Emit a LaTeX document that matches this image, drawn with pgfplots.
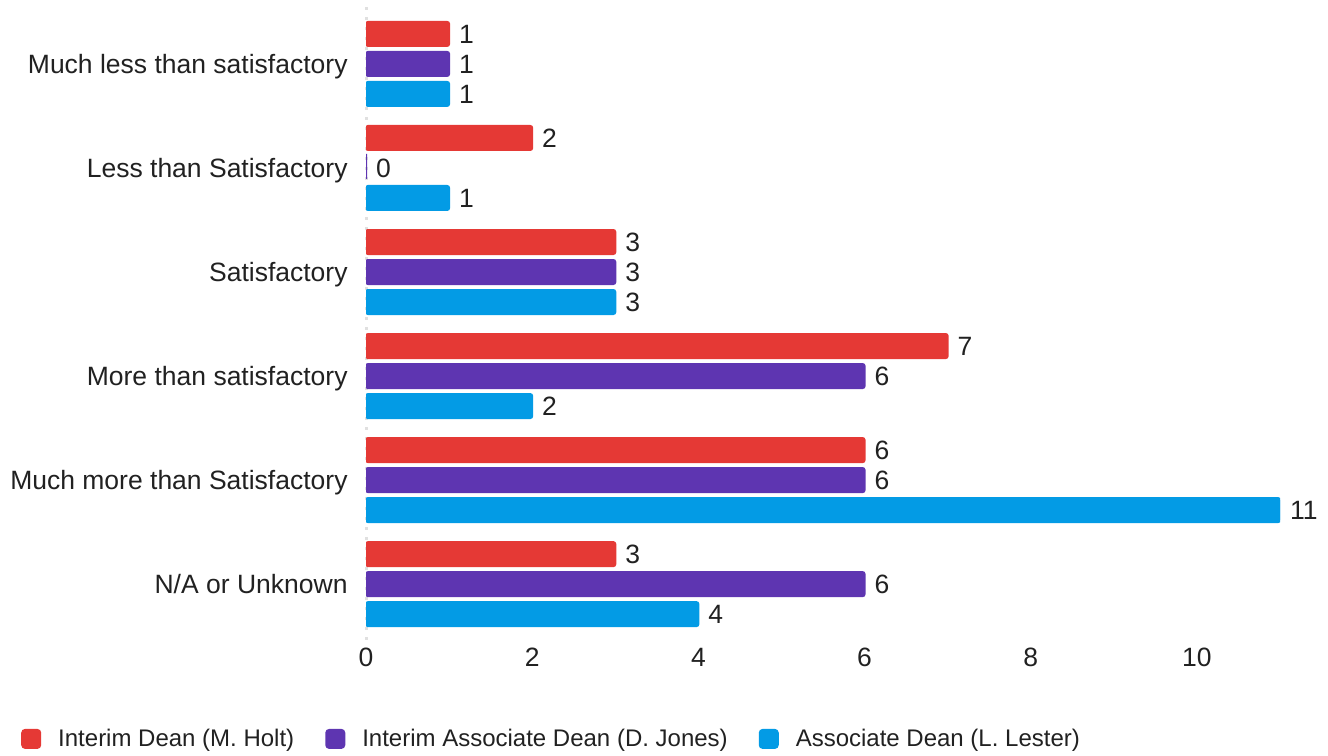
\documentclass[border=0pt]{standalone}
\usepackage{pgfplots}
\pgfplotsset{compat=1.18}
\usepackage{fontspec}
\setmainfont{Liberation Sans}
\definecolor{cred}{HTML}{E53935}
\definecolor{cpurple}{HTML}{5E35B1}
\definecolor{cblue}{HTML}{039BE5}
\definecolor{ctext}{HTML}{212121}
\definecolor{cgrid}{HTML}{E0E0E0}
\newcommand\lfont{\fontsize{26.5bp}{30bp}\selectfont}
\newcommand\gfont{\fontsize{24bp}{28bp}\selectfont}
\begin{document}
\begin{tikzpicture}[x=1bp,y=1bp]
\useasboundingbox (0,0) rectangle (1328,755);
\begin{axis}[
  at={(366bp,115bp)}, anchor=south west,
  scale only axis, width=914bp, height=634bp,
  xmin=0, xmax=11, ymin=-0.537, ymax=5.557,
  enlargelimits=false,
  xbar, bar width=24bp,
  axis x line*=bottom, axis y line*=left,
  x axis line style={draw=none},
  y axis line style={draw=cgrid, line width=3bp, dash pattern=on 3bp off 7bp, -},
  tick style={draw=none},
  xtick={0,2,...,10},
  ytick={0,...,5},
  yticklabels={N/A or Unknown, Much more than Satisfactory, More than satisfactory, Satisfactory, Less than Satisfactory, Much less than satisfactory},
  /pgf/number format/assume math mode=true,
  yticklabel style={anchor=base east, inner sep=0pt, xshift=-14bp, yshift=-9.5bp, font=\lfont, text=ctext},
  xticklabel style={anchor=north, inner sep=0pt, yshift=-8bp, font=\lfont, text=ctext},
  point meta=x,
  nodes near coords,
  nodes near coords style={font=\lfont, text=ctext, anchor=base west, inner sep=0pt, xshift=9bp, yshift=-9.5bp},
  legend columns=3,
  legend image code/.code={\fill[rounded corners=3bp] (0bp,-9bp) rectangle (18bp,9bp);},
  legend style={draw=none, fill=none, at={(-0.3807,-0.156)}, anchor=west, font=\gfont, text=ctext,
    cells={anchor=west}, nodes={inner sep=0pt},
    /tikz/every odd column/.append style={column sep=17bp},
    /tikz/every even column/.append style={column sep=31bp}},
]
\addplot[fill=cred, draw=cred, line width=2bp, rounded corners=2bp, bar shift=30bp] coordinates {(1,5) (2,4) (3,3) (7,2) (6,1) (3,0)};
\addlegendentry{Interim Dean (M. Holt)}
\addplot[fill=cpurple, draw=cpurple, line width=2bp, rounded corners=2bp, bar shift=0bp] coordinates {(1,5) (0,4) (3,3) (6,2) (6,1) (6,0)};
\addlegendentry{Interim Associate Dean (D. Jones)}
\addplot[fill=cblue, draw=cblue, line width=2bp, rounded corners=2bp, bar shift=-30bp] coordinates {(1,5) (1,4) (3,3) (2,2) (11,1) (4,0)};
\addlegendentry{Associate Dean (L. Lester)}
\end{axis}
\end{tikzpicture}
\end{document}
